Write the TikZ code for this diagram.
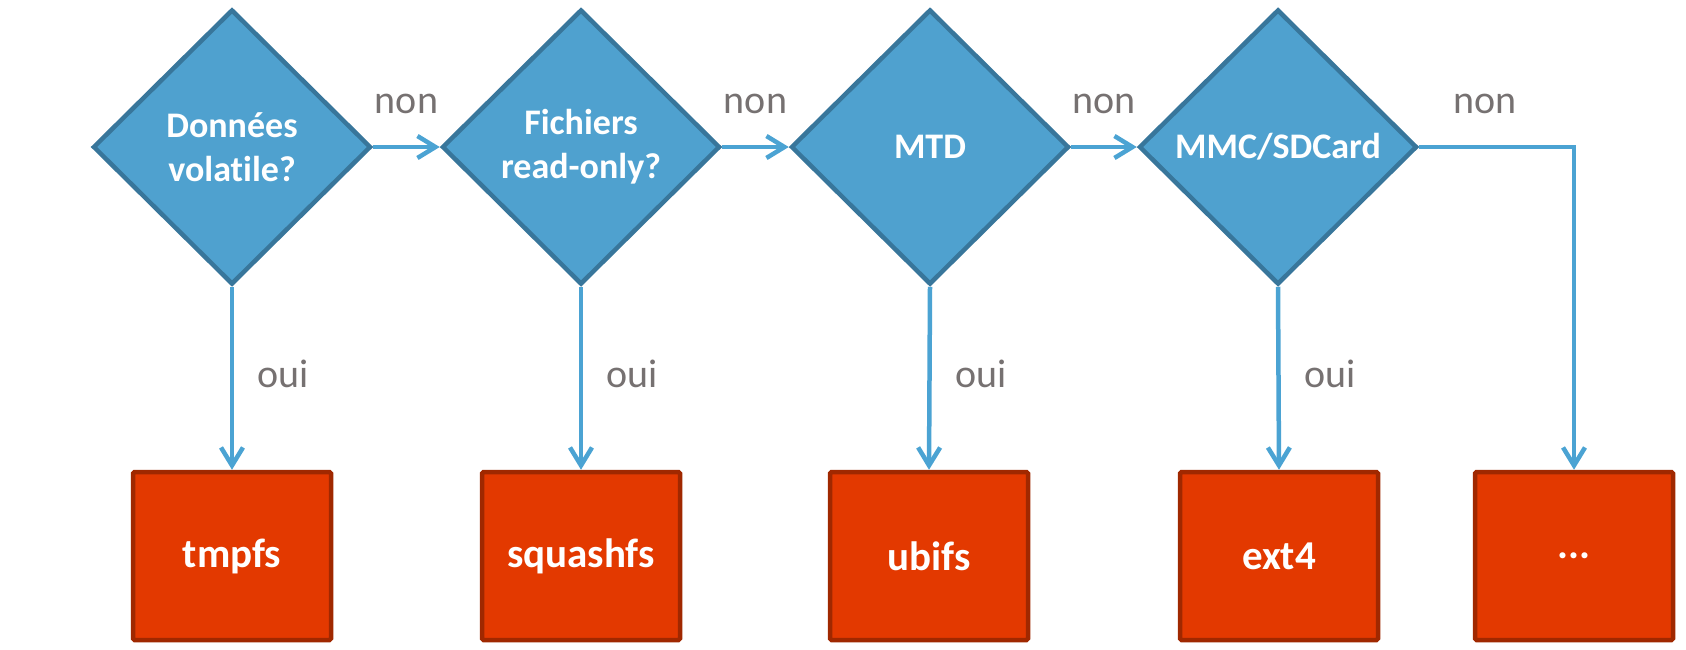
\documentclass[tikz,border=0pt]{standalone}
\usepackage{fontspec}
\setmainfont[Ligatures=NoCommon]{Carlito}
\usetikzlibrary{shapes.geometric,arrows.meta}
\definecolor{dfill}{HTML}{4FA1CF}
\definecolor{dline}{HTML}{38769B}
\definecolor{arrowc}{HTML}{4BA3D3}
\definecolor{bfill}{HTML}{E33900}
\definecolor{bline}{HTML}{A02800}
\definecolor{labc}{HTML}{767171}
\tikzset{
  decision/.style={diamond, draw=dline, fill=dfill, line width=4.5pt, inner sep=0pt,
    minimum width=278pt, minimum height=275pt, align=center, text=white,
    font=\fontsize{36}{44}\selectfont\bfseries},
  result/.style={rectangle, draw=bline, fill=bfill, line width=4.5pt, rounded corners=1.5pt,
    minimum width=198pt, minimum height=168pt, text=white,
    font=\fontsize{41}{49}\selectfont\bfseries},
  conn/.style={draw=arrowc, line width=4.5pt, -{Straight Barb[length=18pt,width=22pt,line width=4.5pt]}},
  nonlab/.style={text=labc, font=\fontsize{40}{48}\selectfont, anchor=base, yshift=34pt},
  ouilab/.style={text=labc, font=\fontsize{40}{48}\selectfont, anchor=base west, xshift=20pt, yshift=-9pt}
}
\begin{document}
\begin{tikzpicture}[x=1pt,y=-1pt]
\useasboundingbox (0,0) rectangle (1686,649);
\node[decision] (d1) at (232,147) {Données\\volatile?};
\node[decision] (d2) at (581,147) {Fichiers\\read-only?};
\node[decision] (d3) at (930,147) {MTD};
\node[decision] (d4) at (1278,147) {MMC/SDCard};
\node[result] (b1) at (232,556) {tmpfs};
\node[result] (b2) at (581,556) {squashfs};
\node[result] (b3) at (929,556) {ubifs};
\node[result] (b4) at (1279,556) {ext4};
\node[result] (b5) at (1574,556) {...};
\draw[conn] (d1.east) -- node[nonlab, midway] {non} (d2.west);
\draw[conn] (d2.east) -- node[nonlab, midway] {non} (d3.west);
\draw[conn] (d3.east) -- node[nonlab, midway] {non} (d4.west);
\draw[conn] (d4.east) -| node[nonlab, pos=0.25, xshift=-12pt] {non} (b5.north);
\draw[conn] (d1.south) -- node[ouilab, midway] {oui} (b1.north);
\draw[conn] (d2.south) -- node[ouilab, midway] {oui} (b2.north);
\draw[conn] (d3.south) -- node[ouilab, midway] {oui} (b3.north);
\draw[conn] (d4.south) -- node[ouilab, midway] {oui} (b4.north);
\end{tikzpicture}
\end{document}
